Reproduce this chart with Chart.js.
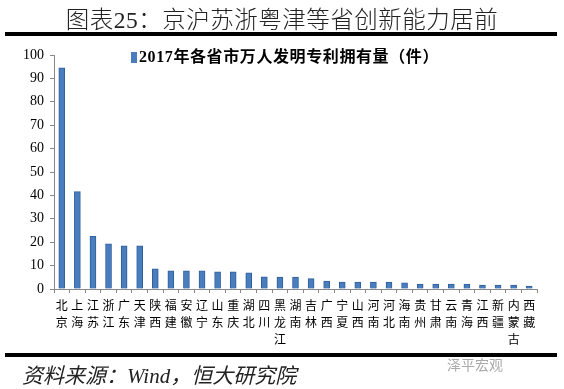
<!DOCTYPE html>
<html>
<head>
<meta charset="utf-8">
<script src="https://cdn.jsdelivr.net/npm/chart.js@4"></script>
<style>
  body { margin: 0; background: #fff; }
  #wrap { position: relative; width: 564px; height: 389px; overflow: hidden; }
  #c { position: absolute; left: 0; top: 0; }
  .title { position: absolute; left: 0; width: 564px; top: 1px; text-align: center;
    font: 300 23.5px "Liberation Serif", "Noto Sans CJK SC"; color: #222; letter-spacing: 0.5px; }
  .rule { position: absolute; left: 5px; width: 552px; height: 4px; background: #000; }
  .legend { position: absolute; left: 131px; top: 43px; font: bold 16px "Liberation Serif", "Noto Sans CJK SC"; color: #000; letter-spacing: 0.6px; }
  .legend i { display: inline-block; width: 6px; height: 11px; background: #4a7dbd; margin-right: 2px; vertical-align: -1px; }
  .src { position: absolute; left: 22px; top: 359px; font: italic 21px "Liberation Serif", "Noto Sans CJK SC"; color: #222; }
  .wm { position: absolute; left: 447px; top: 356px; font: 14px "Noto Sans CJK SC"; color: #aaa; line-height: 16px; }
</style>
</head>
<body>
<div id="wrap">
  <canvas id="c" width="564" height="389"></canvas>
  <div class="title">图表25：京沪苏浙粤津等省创新能力居前</div>
  <div class="rule" style="top:32px"></div>
  <div class="legend"><i></i>2017年各省市万人发明专利拥有量（件）</div>
  <div class="rule" style="top:353px"></div>
  <div class="wm">泽平宏观</div>
  <div class="src">资料来源：Wind，恒大研究院</div>
</div>
<script>
const provinces = ["北京", "上海", "江苏", "浙江", "广东", "天津", "陕西", "福建", "安徽", "辽宁",
  "山东", "重庆", "湖北", "四川", "黑龙江", "湖南", "吉林", "广西", "宁夏", "山西",
  "河南", "河北", "海南", "贵州", "甘肃", "云南", "青海", "江西", "新疆", "内蒙古", "西藏"];
const patents = [94.5, 41.6, 22.5, 19.3, 18.5, 18.5, 8.6, 7.8, 7.8, 7.8,
  7.3, 7.3, 6.9, 5.2, 5.1, 5.1, 4.4, 3.4, 3.0, 3.0,
  3.0, 3.0, 2.6, 2.1, 2.1, 2.1, 2.1, 1.7, 1.7, 1.7, 1.3];
const seriesName = "2017年各省市万人发明专利拥有量（件）";
const yTicks = [0, 10, 20, 30, 40, 50, 60, 70, 80, 90, 100];

const ctx = document.getElementById("c").getContext("2d");
new Chart(ctx, {
  type: "bar",
  data: {
    // each label split into characters so it reads top to bottom
    labels: provinces.map(p => p.split("")),
    datasets: [{
      label: seriesName,
      data: patents,
      backgroundColor: "#4a7dbd",
      borderColor: "#2f5f9c",
      borderWidth: 1,
      barThickness: 6,
    }],
  },
  options: {
    responsive: false,
    animation: false,
    layout: { padding: { top: 55, right: 27, left: 0, bottom: 0 } },
    plugins: { legend: { display: false }, tooltip: { enabled: false } },
    scales: {
      x: {
        grid: { offset: true, drawOnChartArea: false, tickLength: 4, color: "#888" },
        border: { color: "#888" },
        ticks: {
          maxRotation: 0, autoSkip: false, padding: 4, color: "#000",
          font: { family: "'Noto Sans CJK SC'", size: 12, lineHeight: 1.4 },
        },
        afterFit(scale) { scale.height = 100; },
      },
      y: {
        min: 0, max: 100,
        afterBuildTicks(scale) { scale.ticks = yTicks.map(v => ({ value: v })); },
        grid: { drawOnChartArea: false, tickLength: 4, color: "#888" },
        border: { color: "#888" },
        ticks: { padding: 6, color: "#000", font: { family: "'Liberation Serif'", size: 14 } },
        afterFit(scale) { scale.width = 54; },
      },
    },
  },
});
</script>
</body>
</html>
